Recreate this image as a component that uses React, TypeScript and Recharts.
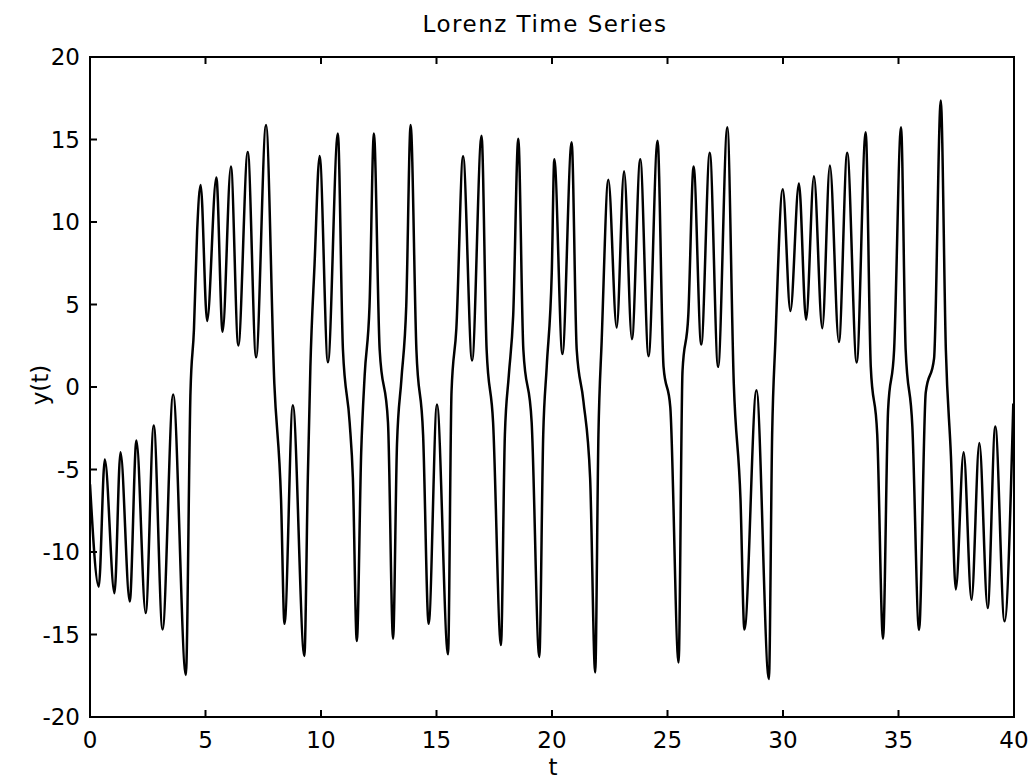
import React from 'react';
import { LineChart, Line, XAxis, YAxis, ReferenceArea } from 'recharts';

// time samples (t) and y(t) values, peaks/troughs plus shoulders
const timeSteps = [
  0, 0.38, 0.64, 1.06, 1.32, 1.72, 2.01, 2.41, 2.76, 3.14, 3.6, 4.15, 4.35, 4.5, 4.64, 4.79,
  5.07, 5.47, 5.74, 6.1, 6.42, 6.83, 7.19, 7.62, 7.98, 8.27, 8.42, 8.78, 9.28, 9.43, 9.54, 9.72, 9.94,
  10.3, 10.73, 10.95, 11.24, 11.38, 11.55, 11.74, 11.89, 12.1, 12.29, 12.54, 12.9, 13.12, 13.29, 13.48, 13.69, 13.88,
  14.13, 14.42, 14.66, 15.02, 15.5, 15.65, 15.86, 16.15, 16.54, 16.95, 17.17, 17.45, 17.79, 17.96, 18.13, 18.32, 18.54,
  18.76, 19.12, 19.45, 19.62, 19.77, 19.99, 20.1, 20.45, 20.85, 21.07, 21.36, 21.65, 21.87, 22.01, 22.15, 22.44,
  22.8, 23.12, 23.46, 23.82, 24.18, 24.57, 24.83, 25.12, 25.48, 25.65, 25.9, 26.13, 26.46, 26.83, 27.19, 27.59,
  27.87, 28.16, 28.33, 28.85, 29.39, 29.53, 29.67, 29.99, 30.32, 30.69, 31.0, 31.34, 31.7, 32.03, 32.42, 32.78,
  33.19, 33.58, 33.8, 34.08, 34.33, 34.55, 34.81, 35.11, 35.31, 35.6, 35.89, 36.18, 36.54, 36.83, 37.05, 37.27,
  37.48, 37.82, 38.16, 38.5, 38.86, 39.19, 39.59, 39.97,
];

const yValues = [
  -5.9, -12.1, -4.4, -12.5, -3.96, -13.0, -3.24, -13.7, -2.33, -14.7, -0.46, -17.45, -0.3, 3.5, 9.5, 12.25,
  4.0, 12.7, 3.35, 13.36, 2.52, 14.25, 1.8, 15.88, 0.2, -6.8, -14.35, -1.1, -16.3, -5.5, 1.2, 7.4, 14.0,
  1.5, 15.36, 2.26, -2.15, -5.5, -15.4, -3.96, 0.7, 4.9, 15.36, 2.26, -2.15, -15.25, -3.45, 0.45, 4.9, 15.88,
  2.26, -2.9, -14.35, -1.06, -16.2, -0.3, 3.56, 13.99, 1.6, 15.23, 2.26, -2.15, -15.64, -2.9, 0.7, 4.34, 15.05,
  2.26, -2.15, -16.36, -2.9, 1.2, 6.93, 13.8, 2.0, 14.84, 2.26, -0.85, -5.5, -17.3, -2.9, 2.78, 12.56,
  3.6, 13.08, 2.9, 13.8, 1.87, 14.92, 1.2, -1.2, -16.7, 0.97, 4.34, 13.36, 2.57, 14.2, 1.22, 15.75,
  0.2, -6.8, -14.7, -0.2, -17.7, -2.9, 2.78, 11.99, 4.6, 12.33, 4.08, 12.77, 3.56, 13.42, 2.73, 14.2,
  1.48, 15.44, 1.22, -2.9, -15.25, -1.37, 2.26, 15.75, 2.26, -2.4, -14.73, -0.33, 1.74, 17.36, 2.26, -4.2,
  -12.27, -3.96, -12.9, -3.4, -13.4, -2.4, -14.2, -1.0,
];

const xTicks = [0, 5, 10, 15, 20, 25, 30, 35, 40];
const yTicks = [-20, -15, -10, -5, 0, 5, 10, 15, 20];

const data = timeSteps.map((t, i) => ({ t, y: yValues[i] }));

const fontFamily = '"DejaVu Sans", sans-serif';
const TICK_LEN = 7;

// left axis: label at x (textAnchor end), axis line sits 10px to the right (tickSize 6 + margin 4)
const LeftTick = (p: any) => (
  <g>
    <line x1={p.x + 10} x2={p.x + 10 + TICK_LEN} y1={p.y} y2={p.y} stroke="#000" strokeWidth={2} />
    <text x={p.x} y={p.y} dy="0.36em" textAnchor="end" fontSize={23} fontFamily={fontFamily} fill="#000">
      {p.payload.value}
    </text>
  </g>
);

// bottom axis: label top at y, axis line 15px above (tickSize 6 + margin 9)
const BottomTick = (p: any) => (
  <g>
    <line x1={p.x} x2={p.x} y1={p.y - 15} y2={p.y - 15 - TICK_LEN} stroke="#000" strokeWidth={2} />
    <text x={p.x} y={p.y} dy="0.71em" textAnchor="middle" fontSize={23} fontFamily={fontFamily} fill="#000">
      {p.payload.value}
    </text>
  </g>
);

// top axis: no labels, tick goes down into the plot (tickSize 6, margin 0)
const TopTick = (p: any) => (
  <line x1={p.x} x2={p.x} y1={p.y + 6} y2={p.y + 6 + TICK_LEN} stroke="#000" strokeWidth={2} />
);

// right axis: no labels, tick goes left into the plot
const RightTick = (p: any) => (
  <line x1={p.x - 6} x2={p.x - 6 - TICK_LEN} y1={p.y} y2={p.y} stroke="#000" strokeWidth={2} />
);

export default function App() {
  return (
    <div style={{ position: 'absolute', left: 0, top: 0, width: 1034, height: 781, background: '#fff' }}>
      <div
        style={{
          position: 'absolute', top: 11, left: 0, width: 1090, textAlign: 'center',
          fontFamily, fontSize: 23, letterSpacing: 1.5, color: '#000',
        }}
      >
        Lorenz Time Series
      </div>
      <div
        style={{
          position: 'absolute', left: 40, top: 385, transform: 'translate(-50%, -50%) rotate(-90deg)',
          fontFamily, fontSize: 23, color: '#000', whiteSpace: 'nowrap',
        }}
      >
        y(t)
      </div>
      <div
        style={{
          position: 'absolute', left: 553, top: 767, transform: 'translate(-50%, -50%)',
          fontFamily, fontSize: 23, color: '#000',
        }}
      >
        t
      </div>
      <LineChart width={1034} height={781} data={data} margin={{ top: 56, right: 19, bottom: 0, left: 0 }}>
        <XAxis
          xAxisId="b" dataKey="t" type="number" domain={[0, 40]} ticks={xTicks} height={64}
          stroke="#000" strokeWidth={2} tickLine={false} tickSize={6} tickMargin={9} tick={BottomTick}
          allowDataOverflow
        />
        <XAxis
          xAxisId="top" orientation="top" dataKey="t" type="number" domain={[0, 40]} ticks={xTicks}
          height={1} stroke="#000" strokeWidth={2} tickLine={false} tickSize={6} tickMargin={0} tick={TopTick}
        />
        <YAxis
          yAxisId="l" type="number" domain={[-20, 20]} ticks={yTicks} width={90}
          stroke="#000" strokeWidth={2} tickLine={false} tickSize={6} tickMargin={4} tick={LeftTick}
          allowDataOverflow
        />
        <YAxis
          yAxisId="r" orientation="right" type="number" domain={[-20, 20]} ticks={yTicks} width={1}
          stroke="#000" strokeWidth={2} tickLine={false} tickSize={6} tickMargin={0} tick={RightTick}
        />
        <ReferenceArea
          xAxisId="b" yAxisId="l" x1={0} x2={40} y1={-20} y2={20}
          fill="none" stroke="#000" strokeWidth={2} ifOverflow="visible"
        />
        <Line
          xAxisId="b" yAxisId="l" type="monotone" dataKey="y" stroke="#000" strokeWidth={2.5}
          dot={false} isAnimationActive={false}
        />
      </LineChart>
    </div>
  );
}
